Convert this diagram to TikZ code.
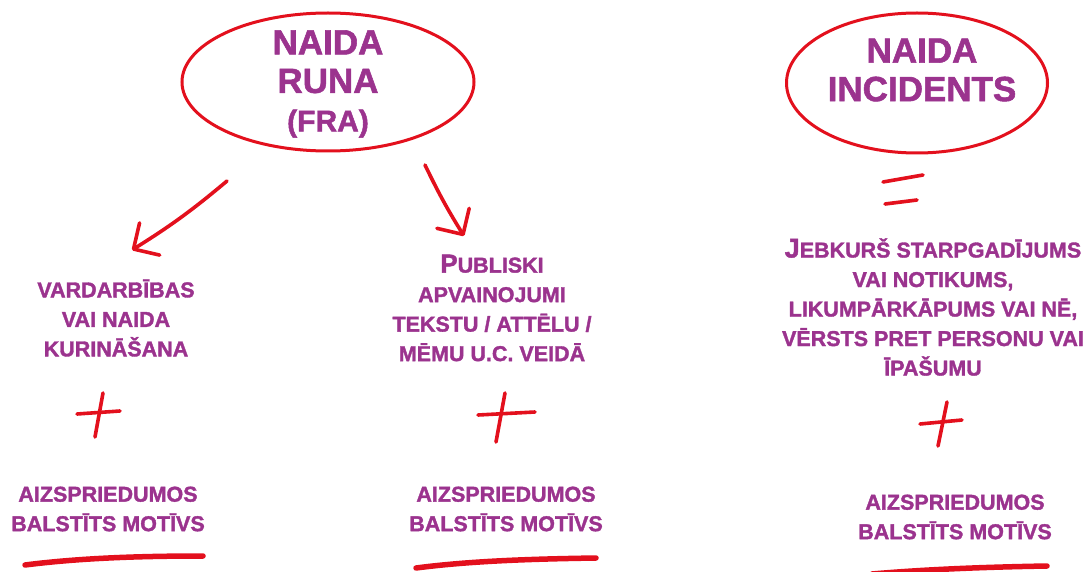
\documentclass[tikz,border=0pt]{standalone}
\usepackage{fontspec}
\setmainfont{Liberation Sans}[BoldFeatures={FakeBold=1.6}]
\usetikzlibrary{arrows.meta,shapes.geometric}
\definecolor{hpurple}{HTML}{9B338E}
\definecolor{hred}{HTML}{E3101D}
\begin{document}
\begin{tikzpicture}[x=1pt,y=-1pt,
  ink/.style={draw=hred, line width=3.6pt, line cap=round, line join=round},
  thickink/.style={draw=hred, line width=5.5pt, line cap=round, line join=round},
  barb/.style={-{Straight Barb[round,length=19pt,width=38pt,line width=3.6pt]}},
  txt/.style={text=hpurple, font=\fontsize{21.5}{29.5}\selectfont\bfseries, align=center, inner sep=0pt},
  ttl/.style={text=hpurple, font=\fontsize{35}{38.5}\selectfont\bfseries, align=center, inner sep=0pt},
  oval/.style={ellipse, draw=hred, line width=3pt, inner sep=0pt}
]
\useasboundingbox (0,0) rectangle (1090,572);

% title ellipses
\node[oval, minimum width=292pt, minimum height=138pt] (e1) at (328,82) {};
\node[ttl] (t1) at (328,84) {NAIDA\\RUNA\\{\fontsize{30}{38.5}\selectfont(FRA)}};
\node[oval, minimum width=261pt, minimum height=140pt] (e2) at (917,83) {};
\node[ttl] (t2) at (922,70) {NAIDA\\INCIDENTS};

% arrows
\coordinate (a1s) at (227,181);
\coordinate (a1e) at (132,250);
\coordinate (a2s) at (425,165);
\coordinate (a2e) at (464,236);
\draw[ink, barb] (a1s) to[bend left=4] (a1e);
\draw[ink, barb] (a2s) to[bend right=3] (a2e);

% equals sign
\draw[ink] (883,182) -- (923,175);
\draw[ink] (885,204) -- (917,200);

% middle texts
\node[txt] (l1) at (116,318) {VARDARBĪBAS\\VAI NAIDA\\KURINĀŠANA};
\node[txt] (m1) at (492,308) {{\fontsize{26}{29.5}\selectfont P}UBLISKI\\APVAINOJUMI\\TEKSTU / ATTĒLU /\\MĒMU U.C. VEIDĀ};
\node[txt] (r1) at (933,307) {{\fontsize{27}{29.5}\selectfont J}EBKURŠ STARPGADĪJUMS\\VAI NOTIKUMS,\\LIKUMPĀRKĀPUMS VAI NĒ,\\VĒRSTS PRET PERSONU VAI\\ĪPAŠUMU};

% plus signs
\draw[ink] (103,393) -- (95,437);
\draw[ink] (77,414) -- (120,411);
\draw[ink] (505,393) -- (496,442);
\draw[ink] (478,415) -- (535,412);
\draw[ink] (947,402) -- (938,446);
\draw[ink] (920,424) -- (962,420);

% bottom texts
\node[txt] (l2) at (108,509) {AIZSPRIEDUMOS\\BALSTĪTS MOTĪVS};
\node[txt] (m2) at (506,509) {AIZSPRIEDUMOS\\BALSTĪTS MOTĪVS};
\node[txt] (r2) at (955,517) {AIZSPRIEDUMOS\\BALSTĪTS MOTĪVS};

% underlines
\draw[thickink] (25,565) .. controls (80,558) and (140,556) .. (203,556);
\draw[thickink] (416,568) .. controls (470,561) and (530,559) .. (596,558);
\draw[thickink] (872,574) .. controls (930,569) and (990,567) .. (1047,566);
\end{tikzpicture}
\end{document}
